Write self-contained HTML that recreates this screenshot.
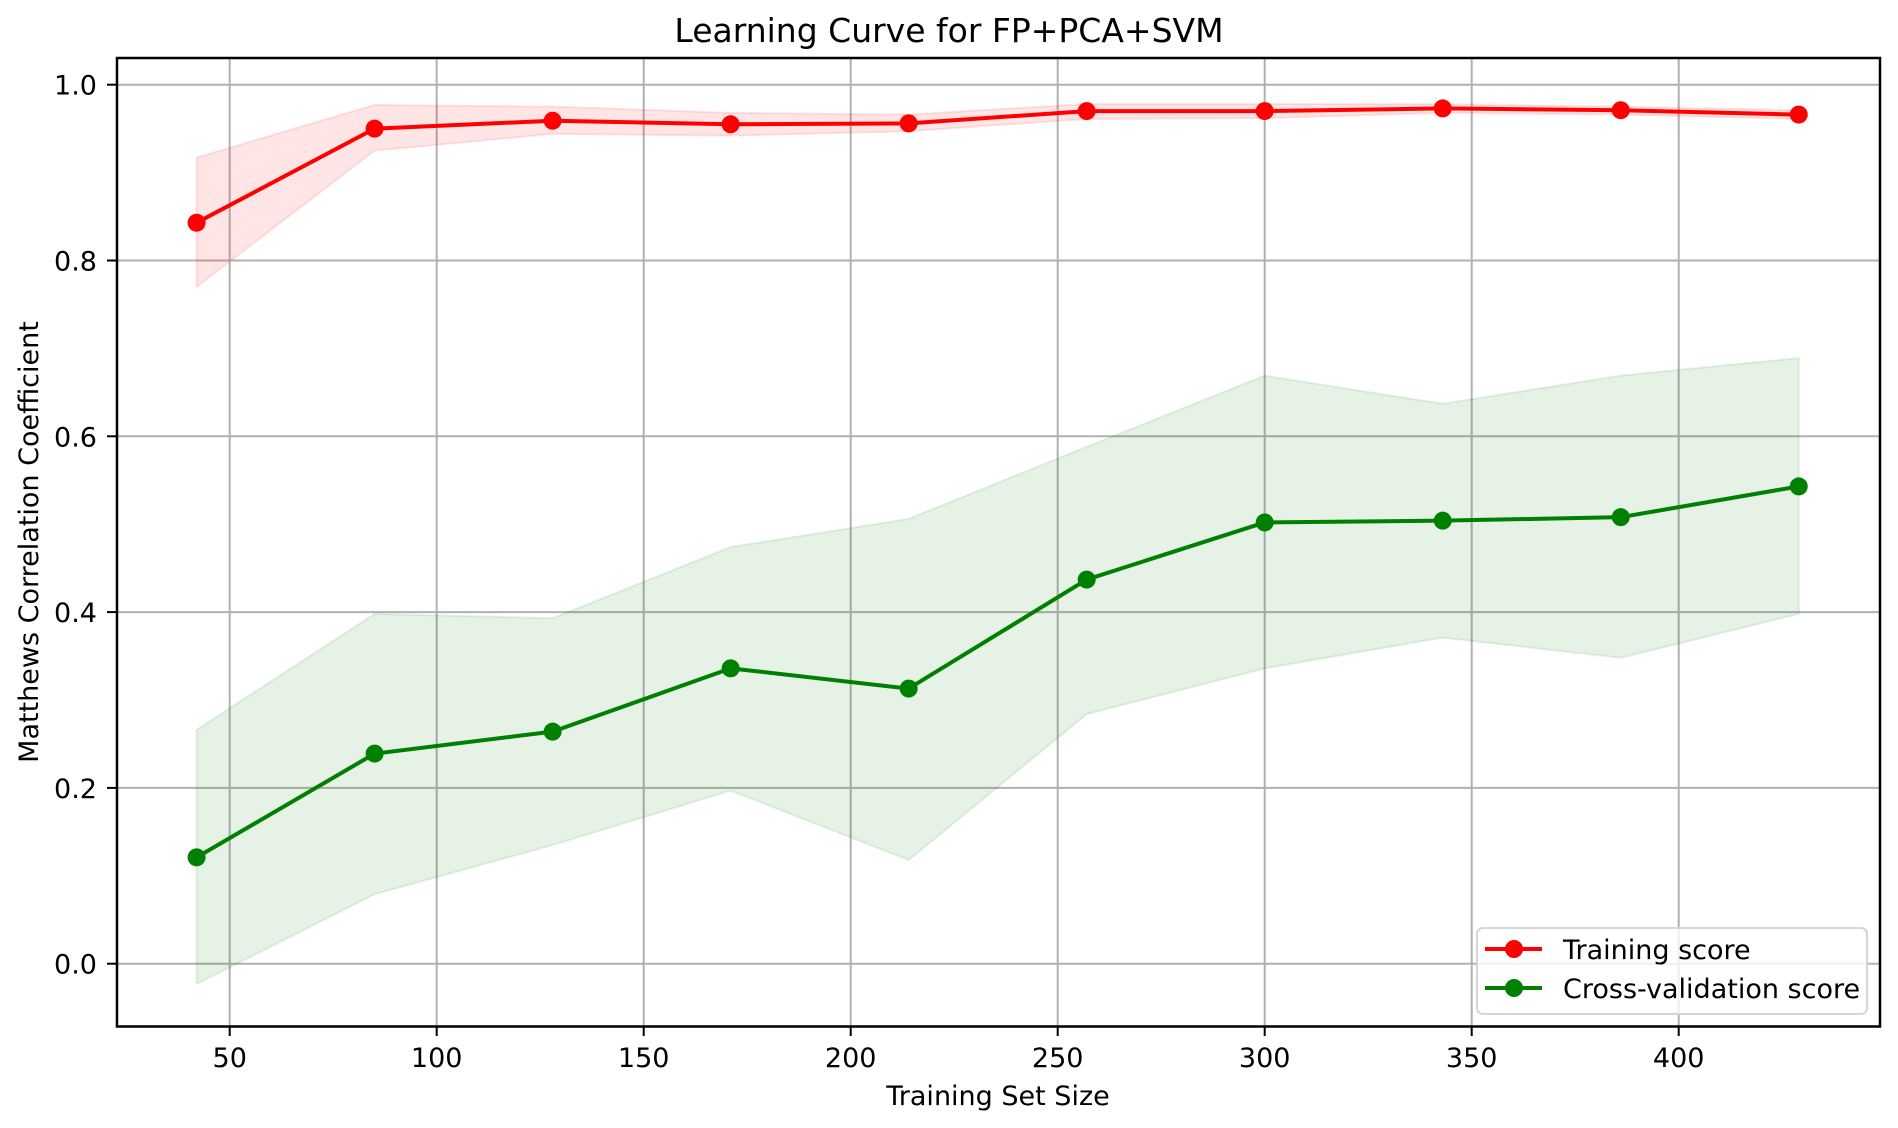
<!DOCTYPE html>
<html><head><meta charset="utf-8"><style>
html,body{margin:0;padding:0;background:#fff;}
svg{display:block;font-family:"DejaVu Sans","Liberation Sans",sans-serif;}
</style></head><body>
<svg id="s" width="1898" height="1128" viewBox="0 0 1898 1128" xmlns="http://www.w3.org/2000/svg">
<rect width="1898" height="1128" fill="#fff"/>
<g id="grid"></g>
<g id="data"></g>
<rect x="117" y="58" width="1763" height="968.5" fill="none" stroke="#000" stroke-width="2.5"/>
<g id="ticks" font-size="27" fill="#000"></g>
<text x="949" y="42" font-size="33" text-anchor="middle">Learning Curve for FP+PCA+SVM</text>
<text x="998" y="1105" font-size="27" text-anchor="middle">Training Set Size</text>
<text transform="translate(38,542) rotate(-90)" font-size="27" text-anchor="middle">Matthews Correlation Coefficient</text>
<rect x="1477" y="928" width="390" height="86" rx="6" fill="#fff" fill-opacity="0.8" stroke="#d5d5d5" stroke-width="2"/>
<line x1="1485" y1="949" x2="1542" y2="949" stroke="#f00" stroke-width="4"/>
<circle cx="1514" cy="949" r="9" fill="#f00"/>
<line x1="1485" y1="988" x2="1542" y2="988" stroke="#008000" stroke-width="4"/>
<circle cx="1514" cy="988" r="9" fill="#008000"/>
<text x="1563" y="959" font-size="27">Training score</text>
<text x="1563" y="998" font-size="27">Cross-validation score</text>
</svg>
<script>
var X=function(v){return 229.7+(v-50)*4.14;},Y=function(v){return 963.7-v*879;};
var ns="http://www.w3.org/2000/svg";
function el(p,t,a,txt){var e=document.createElementNS(ns,t);for(var k in a)e.setAttribute(k,a[k]);if(txt)e.textContent=txt;document.getElementById(p).appendChild(e);}
var xs=[42,85,128,171,214,257,300,343,386,429];
var tr=[0.843,0.950,0.959,0.955,0.956,0.970,0.970,0.973,0.971,0.966];
var tu=[0.917,0.977,0.975,0.968,0.966,0.978,0.978,0.978,0.975,0.971];
var tl=[0.770,0.925,0.944,0.942,0.947,0.961,0.962,0.968,0.966,0.961];
var cv=[0.121,0.239,0.264,0.336,0.313,0.437,0.502,0.504,0.508,0.543];
var cu=[0.266,0.398,0.393,0.474,0.506,0.588,0.669,0.637,0.669,0.689];
var cl=[-0.023,0.079,0.135,0.197,0.118,0.284,0.336,0.371,0.348,0.398];
[50,100,150,200,250,300,350,400].forEach(function(v){var x=X(v);
el("grid","line",{x1:x,y1:58,x2:x,y2:1026,stroke:"#b0b0b0","stroke-width":2});
el("ticks","line",{x1:x,y1:1026,x2:x,y2:1036,stroke:"#000","stroke-width":2});
el("ticks","text",{x:x,y:1067,"text-anchor":"middle"},String(v));});
[0,0.2,0.4,0.6,0.8,1.0].forEach(function(v){var y=Y(v);
el("grid","line",{x1:117,y1:y,x2:1880,y2:y,stroke:"#b0b0b0","stroke-width":2});
el("ticks","line",{x1:107,y1:y,x2:117,y2:y,stroke:"#000","stroke-width":2});
el("ticks","text",{x:97,y:y+10,"text-anchor":"end"},v.toFixed(1));});
function band(u,l,c){var p=xs.map(function(x,i){return X(x)+","+Y(u[i]);});
for(var i=xs.length-1;i>=0;i--)p.push(X(xs[i])+","+Y(l[i]));
el("data","polygon",{points:p.join(" "),fill:c,"fill-opacity":0.1,stroke:c,"stroke-opacity":0.1,"stroke-width":2});}
band(tu,tl,"#f00");band(cu,cl,"#008000");
function line(d,c){el("data","polyline",{points:xs.map(function(x,i){return X(x)+","+Y(d[i]);}).join(" "),fill:"none",stroke:c,"stroke-width":4,"stroke-linejoin":"round"});
xs.forEach(function(x,i){el("data","circle",{cx:X(x),cy:Y(d[i]),r:9,fill:c});});}
line(tr,"#f00");line(cv,"#008000");
</script>
</body></html>
